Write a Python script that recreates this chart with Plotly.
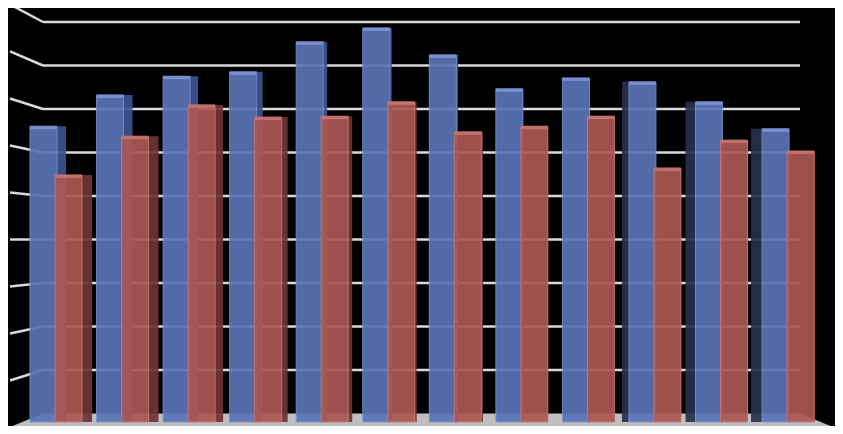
import plotly.graph_objects as go

# values (no labels shown, units = grid steps x 10)
categories = list(range(12))
series_blue = [68.0, 75.2, 79.5, 80.5, 87.4, 90.6, 84.4, 76.6, 79.1, 78.2, 73.6, 67.4]
series_red = [56.8, 65.7, 72.9, 70.1, 70.3, 73.6, 66.7, 68.0, 70.3, 58.4, 64.8, 62.3]
grid_levels = [1, 2, 3, 4, 5, 6, 7, 8, 9]

# the page has an 8px body margin, so the figure is shrunk to fit inside it
OFF = 8
W, H = 843 - 2 * OFF, 434 - 2 * OFF
STEP = 66.55      # px per category
X0 = 56           # px of first category (window coords)
BASE = 422        # px of bar bottom (window coords)
PXU = 4.35        # px per value unit (front plane)
CAP = 0.7         # thin lighter top face

def px(v):
    return v / STEP

# fake 3d side faces, side on right for left bars, on left for right bars
blue_side_w = [9, 9, 8, 6, 4, 2, 1, 0, 0, 7, 10, 11]
red_side_w = [10, 10, 8, 6, 4, 2, 1, 0, 0, 0, 0, 0]
blue_side_off = [px(1) if i < 9 else px(-26 - w) for i, w in enumerate(blue_side_w)]

fig = go.Figure()
fig.add_trace(go.Bar(x=categories, y=series_blue, offset=blue_side_off,
                     width=[px(max(w, 0.01)) for w in blue_side_w],
                     marker=dict(color=["#3d5490" if i < 9 else "#26314f" for i in categories],
                                 line=dict(width=0)), opacity=0.92))
fig.add_trace(go.Bar(x=categories, y=series_blue, offset=px(-26), width=px(27),
                     marker=dict(color="#5a74b6", line=dict(color="#7990cc", width=1)),
                     opacity=0.92))
fig.add_trace(go.Bar(x=categories, y=[CAP] * 12, base=[v - CAP for v in series_blue],
                     offset=px(-26), width=px(27),
                     marker=dict(color="#7890d0", line=dict(width=0))))
fig.add_trace(go.Bar(x=categories, y=series_red, offset=px(26),
                     width=[px(max(w, 0.01)) for w in red_side_w],
                     marker=dict(color="#6e3532", line=dict(width=0)), opacity=0.92))
fig.add_trace(go.Bar(x=categories, y=series_red, offset=px(-1), width=px(27),
                     marker=dict(color="#ab5753", line=dict(color="#c47874", width=1)),
                     opacity=0.92))
fig.add_trace(go.Bar(x=categories, y=[CAP] * 12, base=[v - CAP for v in series_red],
                     offset=px(-1), width=px(27),
                     marker=dict(color="#c2726e", line=dict(width=0))))

def pyp(p):
    return 1 - (p - OFF) / H

def pxp(p):
    return (p - OFF) / W

shapes = []
# floor
shapes.append(dict(type="path", xref="paper", yref="paper", layer="below",
                   path="M %f %f L %f %f L %f %f L %f %f Z" % (
                       pxp(10), pyp(427), pxp(43), pyp(413.5),
                       pxp(800), pyp(413.5), pxp(833), pyp(427)),
                   fillcolor="#bfbfbf", line=dict(width=0)))
shapes.append(dict(type="line", xref="paper", yref="paper", layer="below",
                   x0=pxp(10), x1=pxp(835), y0=pyp(428.5), y1=pyp(428.5),
                   line=dict(color="#7f7f7f", width=3)))
# back wall and side wall gridlines
for g in grid_levels:
    wall = 413.5 - 43.5 * g
    left = 240 + (wall - 240) * 47 / 43.5
    shapes.append(dict(type="line", xref="paper", yref="paper", layer="below",
                       x0=pxp(43), x1=pxp(800), y0=pyp(wall), y1=pyp(wall),
                       line=dict(color="#d9d9d9", width=2.5)))
    shapes.append(dict(type="line", xref="paper", yref="paper", layer="below",
                       x0=pxp(10), x1=pxp(43), y0=pyp(left), y1=pyp(wall),
                       line=dict(color="#d9d9d9", width=2.5)))

fig.update_layout(
    width=W, height=H,
    margin=dict(l=0, r=0, t=0, b=0),
    paper_bgcolor="black",
    plot_bgcolor="rgba(0,0,0,0)",
    barmode="overlay",
    showlegend=False,
    shapes=shapes,
    xaxis=dict(range=[(OFF - X0) / STEP, (OFF + W - X0) / STEP], visible=False, fixedrange=True),
    yaxis=dict(range=[-(OFF + H - BASE) / PXU, (BASE - OFF) / PXU], visible=False, fixedrange=True),
)

fig.write_html("out.html")
